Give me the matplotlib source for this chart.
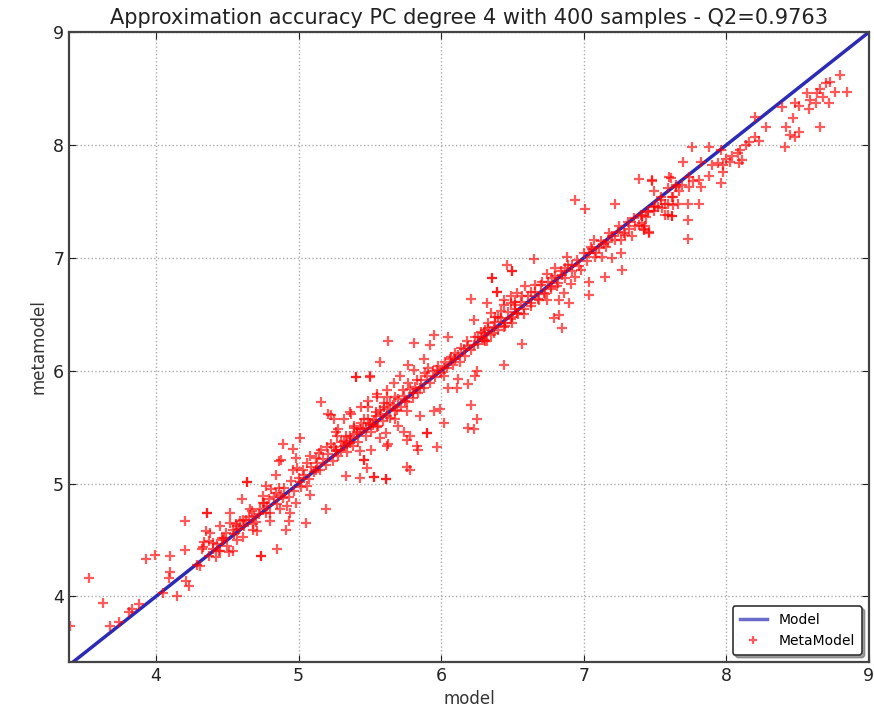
import matplotlib
matplotlib.use('Agg')
import matplotlib.pyplot as plt

# values (model output vs metamodel prediction)
# scattered points
model_vals = [
    # 3.4 - 4.8
    3.40, 3.53, 3.63, 3.68, 3.74, 3.81, 3.83, 3.88, 3.93, 3.99, 4.05, 4.10, 4.09, 4.10,
    4.15, 4.20, 4.20, 4.21, 4.23, 4.31, 4.33, 4.36, 4.35, 4.37, 4.40, 4.43, 4.47, 4.49,
    4.42, 4.45, 4.52, 4.54, 4.56, 4.59, 4.61, 4.63, 4.67, 4.68, 4.71, 4.74, 4.76, 4.64,
    4.32, 4.37, 4.29, 4.51, 4.57, 4.77, 4.75,
    # 4.3 - 5.6
    5.40, 5.50, 5.16, 5.21, 5.01, 4.89, 4.96, 4.88, 4.86, 4.64, 4.36, 5.19, 5.05, 4.91,
    4.85, 4.74, 4.54, 4.44, 4.38, 4.45, 4.52, 4.57, 4.61, 4.66, 4.68, 4.69, 4.73, 4.75,
    4.79, 4.81, 4.84, 4.86, 4.89, 4.92, 4.94, 4.98, 4.87, 4.80, 4.93, 5.01, 4.96, 4.99,
    5.03, 5.06, 5.08, 5.12, 5.14, 5.16, 5.20, 5.23, 5.26, 5.27, 5.30, 5.34, 5.36, 5.39,
    5.41, 5.44, 5.47, 5.49, 5.52, 5.54, 5.57, 5.60, 5.62, 5.61, 5.62, 5.43, 5.53, 5.61,
    5.33, 5.48, 5.46, 5.43, 5.08, 5.06, 5.12, 5.26, 5.25, 5.36, 5.49, 5.55, 4.98, 4.84,
    4.77, 4.60, 4.48, 4.34,
    5.84, 5.76, 5.78, 5.61, 5.53, 5.46, 5.90, 5.78,
    # 5.2 - 6.5
    6.50, 6.36, 6.39, 6.21, 6.32, 6.23, 6.44, 6.49, 6.52, 6.53, 6.50, 6.45, 6.40, 6.37,
    6.35, 6.30, 6.32, 6.26, 6.23, 6.18, 6.16, 6.12, 6.10, 6.06, 6.05, 5.95, 5.92, 5.81,
    5.63, 5.57, 5.50, 5.40, 5.77, 5.88, 5.91, 5.97, 6.02, 6.02, 6.05, 6.11, 6.12, 6.19,
    6.25, 6.24, 6.44, 6.21, 6.25, 6.19, 6.23, 5.99, 6.02, 5.95, 5.97, 5.83, 5.90, 5.76,
    5.74, 5.63, 5.57, 5.51, 5.36, 5.32, 5.26, 5.33, 5.39, 5.43, 5.46, 5.50, 5.54, 5.56,
    5.60, 5.62, 5.64, 5.68, 5.69, 5.73, 5.75, 5.77, 5.80, 5.83, 5.85, 5.89, 5.81, 5.71,
    5.67, 5.62, 5.55, 5.49, 5.44, 5.37, 5.32, 5.28, 5.23, 5.76, 5.68, 5.70, 5.85,
    # 6.3 - 7.7
    7.39, 7.48, 7.60, 6.94, 7.01, 7.22, 7.49, 7.59, 7.65, 7.62, 7.57, 7.63, 7.59, 7.62,
    7.54, 7.49, 7.45, 7.41, 7.39, 7.42, 7.46, 7.35, 7.32, 7.34, 7.28, 7.26, 7.24, 7.20,
    7.17, 7.14, 7.11, 7.07, 7.05, 7.04, 7.08, 7.13, 7.20, 7.26, 7.27, 7.15, 7.04, 7.04,
    6.98, 6.92, 6.87, 6.88, 6.85, 6.80, 6.78, 6.74, 6.71, 6.65, 6.66, 6.63, 6.59, 6.57,
    6.53, 6.50, 6.46, 6.36, 6.39, 6.44, 6.49, 6.52, 6.42, 6.38, 6.33, 6.31, 6.29, 6.37,
    6.44, 6.50, 6.58, 6.63, 6.69, 6.72, 6.77, 6.81, 6.86, 6.91, 6.94, 6.79, 6.83, 6.85,
    6.57, 6.31, 6.74, 6.83, 6.90,
    # 7.4 - 8.9
    8.80, 8.73, 8.70, 8.85, 8.76, 8.66, 8.64, 8.68, 8.72, 8.57, 8.59, 8.63, 8.58, 8.51,
    8.48, 8.47, 8.39, 8.51, 8.48, 8.45, 8.42, 8.66, 8.41, 8.28, 8.20, 8.23, 8.20, 8.16,
    8.14, 8.10, 8.08, 8.11, 8.09, 8.04, 8.03, 8.00, 7.98, 7.96, 7.88, 7.76, 7.96, 7.98,
    7.94, 7.90, 7.88, 7.82, 7.70, 7.81, 7.82, 7.77, 7.74, 7.74, 7.69, 7.65, 7.67, 7.61,
    7.63, 7.66, 7.73, 7.81, 7.59, 7.57, 7.62, 7.73, 7.73, 7.54, 7.52, 7.49, 7.48, 7.45,
    7.43, 7.42, 7.46, 7.41,
]

metamodel_vals = [
    3.74, 4.16, 3.94, 3.74, 3.77, 3.86, 3.89, 3.93, 4.33, 4.37, 4.03, 4.36, 4.16, 4.22,
    4.00, 4.41, 4.67, 4.14, 4.09, 4.27, 4.44, 4.74, 4.58, 4.49, 4.42, 4.46, 4.50, 4.56,
    4.35, 4.40, 4.74, 4.59, 4.64, 4.67, 4.53, 4.68, 4.76, 4.64, 4.58, 4.36, 4.83, 5.01,
    4.42, 4.36, 4.28, 4.39, 4.50, 4.74, 4.89,
    5.94, 5.94, 5.72, 5.62, 5.40, 5.35, 5.31, 5.21, 5.20, 5.01, 4.74, 4.77, 4.65, 4.59,
    4.42, 4.36, 4.40, 4.40, 4.56, 4.62, 4.65, 4.62, 4.68, 4.77, 4.59, 4.71, 4.77, 4.83,
    4.86, 4.95, 4.92, 4.96, 4.87, 4.80, 4.74, 4.83, 4.77, 4.67, 4.67, 5.01, 5.12, 5.14,
    5.12, 5.18, 5.24, 5.23, 5.27, 5.30, 5.32, 5.35, 5.30, 5.42, 5.37, 5.35, 5.42, 5.49,
    5.46, 5.54, 5.49, 5.57, 5.52, 5.60, 5.65, 5.71, 5.77, 5.45, 5.33, 5.05, 5.06, 5.04,
    5.07, 5.14, 5.21, 5.29, 4.90, 4.98, 5.12, 5.46, 5.57, 5.63, 5.68, 5.79, 5.23, 5.08,
    4.98, 4.86, 4.52, 4.48,
    5.30, 5.15, 5.12, 5.04, 5.06, 5.21, 5.45, 5.42,
    6.88, 6.82, 6.70, 6.64, 6.60, 6.45, 6.58, 6.66, 6.61, 6.51, 6.48, 6.42, 6.48, 6.39,
    6.51, 6.33, 6.26, 6.30, 6.23, 6.26, 6.19, 6.14, 6.10, 6.10, 6.30, 6.32, 6.23, 6.25,
    6.26, 6.08, 5.95, 5.94, 6.05, 6.10, 6.02, 6.01, 6.02, 5.95, 5.85, 5.85, 5.93, 5.88,
    6.00, 5.95, 6.05, 5.70, 5.57, 5.49, 5.48, 5.66, 5.54, 5.64, 5.32, 5.33, 5.45, 5.39,
    5.46, 5.35, 5.40, 5.30, 5.36, 5.33, 5.29, 5.42, 5.51, 5.48, 5.57, 5.54, 5.63, 5.51,
    5.68, 5.60, 5.71, 5.77, 5.65, 5.83, 5.73, 5.89, 5.80, 5.92, 5.85, 5.98, 6.01, 5.95,
    5.89, 5.83, 5.77, 5.73, 5.68, 5.62, 5.57, 5.48, 5.61, 5.64, 5.57, 5.51, 5.60,
    7.70, 7.68, 7.72, 7.51, 7.43, 7.48, 7.59, 7.62, 7.65, 7.54, 7.48, 7.47, 7.38, 7.37,
    7.51, 7.45, 7.41, 7.37, 7.29, 7.26, 7.23, 7.35, 7.26, 7.19, 7.22, 7.16, 7.23, 7.19,
    7.14, 7.12, 7.09, 7.16, 7.10, 7.04, 7.01, 7.01, 7.00, 7.04, 6.89, 6.83, 6.79, 6.67,
    6.89, 6.94, 6.91, 7.01, 6.85, 6.91, 6.82, 6.86, 6.79, 6.99, 6.76, 6.70, 6.75, 6.66,
    6.69, 6.88, 6.94, 6.82, 6.70, 6.63, 6.60, 6.55, 6.53, 6.48, 6.42, 6.36, 6.29, 6.33,
    6.39, 6.42, 6.50, 6.57, 6.63, 6.69, 6.72, 6.75, 6.69, 6.77, 6.83, 6.47, 6.49, 6.38,
    6.24, 6.26, 6.63, 6.63, 6.60,
    8.62, 8.56, 8.55, 8.47, 8.47, 8.50, 8.46, 8.43, 8.37, 8.46, 8.40, 8.37, 8.32, 8.35,
    8.37, 8.24, 8.34, 8.12, 8.07, 8.09, 8.16, 8.16, 7.98, 8.16, 8.25, 8.04, 8.07, 8.03,
    8.00, 7.96, 7.93, 7.87, 7.84, 7.90, 7.85, 7.88, 7.82, 7.96, 7.98, 7.98, 7.66, 7.76,
    7.84, 7.82, 7.73, 7.85, 7.85, 7.69, 7.63, 7.68, 7.72, 7.63, 7.65, 7.63, 7.59, 7.71,
    7.54, 7.48, 7.48, 7.48, 7.48, 7.38, 7.37, 7.34, 7.17, 7.54, 7.45, 7.42, 7.69, 7.42,
    7.28, 7.25, 7.22, 7.31,
]

# points in the dense band that hugs the diagonal
band_model = [
    4.40, 4.46, 4.50, 4.55, 4.58, 4.62, 4.65, 4.70, 4.72, 4.78, 4.80, 4.83, 4.85, 4.88,
    4.90, 4.93, 4.95, 4.97, 5.00, 5.02,
    5.04, 5.07, 5.09, 5.11, 5.13, 5.15, 5.17, 5.19, 5.21, 5.24, 5.25, 5.28, 5.30, 5.32,
    5.34, 5.37, 5.38, 5.41, 5.42, 5.45, 5.47, 5.50, 5.51, 5.53, 5.55, 5.58, 5.59,
    5.62, 5.64, 5.66, 5.68, 5.70, 5.72, 5.74, 5.76, 5.78, 5.80, 5.82, 5.84, 5.86, 5.88,
    5.90, 5.92, 5.94, 5.96, 5.98, 6.00, 6.03, 6.04, 6.07, 6.08, 6.10, 6.13, 6.14, 6.17,
    6.19,
    6.21, 6.24, 6.26, 6.28, 6.30, 6.33, 6.35, 6.38, 6.40, 6.42, 6.45, 6.47, 6.49, 6.52,
    6.54, 6.56, 6.58, 6.61, 6.63, 6.66, 6.68, 6.70, 6.73, 6.75, 6.77, 6.80, 6.82, 6.84,
    6.87, 6.89, 6.92, 6.95, 6.97,
    7.00, 7.02, 7.06, 7.09, 7.12, 7.16, 7.18, 7.22, 7.25, 7.29, 7.31, 7.36, 7.40, 7.44,
    7.50, 7.55,
]

band_meta = [
    4.47, 4.52, 4.45, 4.55, 4.60, 4.62, 4.70, 4.66, 4.73, 4.80, 4.74, 4.88, 4.82, 4.90,
    4.96, 4.88, 5.02, 4.93, 5.05, 4.97,
    5.08, 5.04, 5.15, 5.10, 5.18, 5.12, 5.22, 5.16, 5.26, 5.20, 5.32, 5.24, 5.30, 5.38,
    5.28, 5.40, 5.33, 5.44, 5.37, 5.48, 5.42, 5.52, 5.46, 5.56, 5.50, 5.62, 5.55,
    5.66, 5.58, 5.70, 5.64, 5.75, 5.68, 5.78, 5.72, 5.84, 5.76, 5.86, 5.80, 5.92, 5.85,
    5.95, 5.89, 6.00, 5.94, 6.04, 5.98, 6.08, 6.02, 6.12, 6.05, 6.16, 6.08, 6.20, 6.13,
    6.22,
    6.18, 6.30, 6.24, 6.34, 6.27, 6.38, 6.32, 6.43, 6.36, 6.47, 6.40, 6.52, 6.46, 6.58,
    6.50, 6.61, 6.55, 6.66, 6.60, 6.70, 6.64, 6.76, 6.68, 6.79, 6.74, 6.84, 6.78, 6.88,
    6.82, 6.94, 6.88, 6.98, 6.93,
    7.04, 6.97, 7.08, 7.04, 7.15, 7.10, 7.22, 7.16, 7.28, 7.20, 7.32, 7.28, 7.38, 7.36,
    7.46, 7.44,
]

ref_line = [3.39, 9.0]

fig = plt.figure(figsize=(8.74, 7.17), dpi=100)
ax = fig.add_axes([0.079, 0.077, 0.915, 0.878])

ax.plot(ref_line, ref_line, color='#2b2bb5', lw=2.5, label='Model')
ax.plot(model_vals + band_model, metamodel_vals + band_meta, '+', color='red',
        alpha=0.65, ms=6.5, mew=1.6, label='MetaModel')

ax.set_xlim(3.39, 9.0)
ax.set_ylim(3.42, 9.0)
ax.set_xticks([4, 5, 6, 7, 8, 9])
ax.set_yticks([4, 5, 6, 7, 8, 9])
ax.grid(True, linestyle=':', color='#aaaaaa', lw=1.0)
ax.tick_params(direction='in', top=True, right=True, labelsize=12.5,
               length=5, colors='#222222')
for s in ax.spines.values():
    s.set_linewidth(1.6)
    s.set_color('#444444')

ax.set_xlabel('model', fontsize=12, color='#333333')
ax.set_ylabel('metamodel', fontsize=12, color='#333333')
ax.set_title('Approximation accuracy PC degree 4 with 400 samples - Q2=0.9763',
             fontsize=15, color='#222222')

leg = ax.legend(loc='lower right', fontsize=10, numpoints=1, fancybox=True,
                shadow=True, markerscale=0.8, borderpad=0.5)
leg.get_lines()[0].set_alpha(0.7)
leg.get_frame().set_linewidth(1.2)
leg.get_frame().set_edgecolor('#333333')

fig.savefig('out.png', dpi=100)
